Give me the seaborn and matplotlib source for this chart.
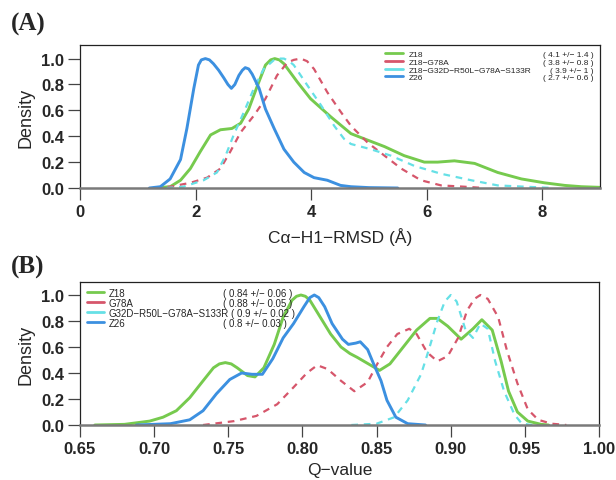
import numpy as np
import pandas as pd
import matplotlib
matplotlib.use("Agg")
import matplotlib.pyplot as plt
import seaborn as sns

# ---------------- data ----------------
series_names_a = ["Z18", "Z18\u2212G78A", "Z18\u2212G32D\u2212R50L\u2212G78A\u2212S133R", "Z26"]
series_stats_a = ["( 4.1 +/\u2212 1.4 )", "( 3.8 +/\u2212 0.8 )", "( 3.9 +/\u2212 1 )", "( 2.7 +/\u2212 0.6 )"]
series_names_b = ["Z18", "G78A", "G32D\u2212R50L\u2212G78A\u2212S133R", "Z26"]
series_stats_b = ["( 0.84 +/\u2212 0.06 )", "( 0.88 +/\u2212 0.05 )", "( 0.9 +/\u2212 0.02 )", "( 0.8 +/\u2212 0.03 )"]

# Panel A: C-alpha H1 RMSD densities (normalised to max 1)
a_z18_x = [1.3, 1.56, 1.74, 1.91, 2.08, 2.26, 2.43, 2.63, 2.78, 2.92, 3.07, 3.21, 3.30, 3.37, 3.45, 3.53,
           3.76, 3.99, 4.34, 4.69, 4.92, 5.27, 5.61, 5.96, 6.19, 6.48, 6.83, 7.23, 7.64, 8.04, 8.39,
           8.68, 9.0]
a_z18_y = [0.0, 0.01, 0.06, 0.15, 0.28, 0.41, 0.45, 0.46, 0.50, 0.61, 0.79, 0.95, 0.99, 1.0, 0.99, 0.96,
           0.82, 0.69, 0.55, 0.42, 0.38, 0.32, 0.25, 0.20, 0.20, 0.21, 0.19, 0.12, 0.07, 0.04, 0.02,
           0.01, 0.005]
a_g78a_x = [1.3, 1.56, 1.91, 2.2, 2.43, 2.6, 2.78, 3.01, 3.21, 3.41, 3.59, 3.70, 3.82, 3.93, 4.05, 4.28,
            4.51, 4.69, 4.98, 5.27, 5.56, 5.90, 6.25, 6.65, 7.0]
a_g78a_y = [0.0, 0.01, 0.04, 0.08, 0.15, 0.28, 0.43, 0.56, 0.69, 0.87, 0.97, 0.99, 1.0, 0.98, 0.92, 0.74,
            0.59, 0.48, 0.35, 0.25, 0.15, 0.06, 0.02, 0.01, 0.0]
a_quad_x = [1.5, 1.79, 2.14, 2.37, 2.52, 2.66, 2.84, 3.01, 3.18, 3.36, 3.45, 3.53, 3.62, 3.70, 3.94, 4.17,
            4.40, 4.57, 4.69, 5.03, 5.38, 5.79, 6.25, 6.77, 7.23, 7.7, 8.2]
a_quad_y = [0.0, 0.01, 0.06, 0.12, 0.25, 0.41, 0.59, 0.77, 0.92, 0.99, 1.0, 1.0, 0.98, 0.95, 0.79, 0.64,
            0.48, 0.38, 0.34, 0.30, 0.25, 0.17, 0.11, 0.06, 0.02, 0.01, 0.0]
a_z26_x = [1.2, 1.39, 1.56, 1.74, 1.85, 1.97, 2.05, 2.10, 2.17, 2.24, 2.31, 2.40, 2.49, 2.56, 2.62, 2.68,
           2.75, 2.81, 2.86, 2.92, 2.98, 3.10, 3.21, 3.36, 3.53, 3.70, 3.88, 4.05, 4.28, 4.51, 4.69,
           5.0, 5.5]
a_z26_y = [0.0, 0.01, 0.07, 0.22, 0.46, 0.77, 0.95, 0.99, 1.0, 0.99, 0.96, 0.91, 0.85, 0.80, 0.77, 0.80,
           0.87, 0.91, 0.93, 0.92, 0.88, 0.77, 0.61, 0.46, 0.30, 0.20, 0.12, 0.08, 0.06, 0.02, 0.01,
           0.003, 0.0]

# Panel B: Q-value densities (normalised to max 1)
b_z18_x = [0.66, 0.68, 0.697, 0.706, 0.715, 0.724, 0.733, 0.740, 0.744, 0.748, 0.752, 0.756, 0.763, 0.768,
           0.774, 0.781, 0.787, 0.793, 0.796, 0.799, 0.802, 0.805, 0.812, 0.819, 0.826, 0.832, 0.837,
           0.846, 0.852, 0.859, 0.868, 0.877, 0.886, 0.891, 0.898, 0.907, 0.915, 0.921, 0.928, 0.934,
           0.939, 0.945, 0.952, 0.961, 0.966]
b_z18_y = [0.0, 0.005, 0.03, 0.06, 0.11, 0.21, 0.34, 0.44, 0.47, 0.48, 0.47, 0.44, 0.38, 0.37,
           0.44, 0.62, 0.83, 0.96, 0.99, 1.0, 0.99, 0.96, 0.83, 0.70, 0.60, 0.55, 0.52,
           0.46, 0.42, 0.47, 0.60, 0.73, 0.82, 0.82, 0.76, 0.66, 0.74, 0.81, 0.73, 0.49,
           0.26, 0.10, 0.03, 0.005, 0.0]
b_g78a_x = [0.733, 0.754, 0.769, 0.783, 0.794, 0.803, 0.810, 0.817, 0.826, 0.835, 0.844, 0.850, 0.857,
            0.864, 0.872, 0.877, 0.884, 0.891, 0.898, 0.905, 0.911, 0.916, 0.920, 0.925, 0.932, 0.938,
            0.945, 0.952, 0.959, 0.968, 0.978]
b_g78a_y = [0.0, 0.03, 0.07, 0.16, 0.29, 0.40, 0.46, 0.43, 0.34, 0.26, 0.33, 0.46, 0.60,
            0.70, 0.74, 0.70, 0.56, 0.49, 0.53, 0.67, 0.88, 0.97, 1.0, 0.97, 0.83, 0.57,
            0.32, 0.12, 0.04, 0.01, 0.0]
b_quad_x = [0.833, 0.850, 0.862, 0.871, 0.880, 0.885, 0.891, 0.896, 0.900, 0.904, 0.910, 0.915, 0.920,
            0.925, 0.930, 0.936, 0.943, 0.948, 0.955]
b_quad_y = [0.0, 0.01, 0.06, 0.19, 0.39, 0.57, 0.80, 0.95, 1.0, 0.95, 0.73, 0.67, 0.78,
            0.74, 0.49, 0.26, 0.08, 0.01, 0.0]
b_z26_x = [0.688, 0.711, 0.724, 0.733, 0.742, 0.751, 0.759, 0.766, 0.773, 0.780, 0.787, 0.794, 0.801,
           0.805, 0.808, 0.811, 0.815, 0.820, 0.827, 0.831, 0.836, 0.839, 0.844, 0.848, 0.853, 0.857,
           0.863, 0.871, 0.883]
b_z26_y = [0.0, 0.01, 0.04, 0.11, 0.24, 0.35, 0.40, 0.39, 0.39, 0.51, 0.67, 0.78, 0.91,
           0.98, 1.0, 0.98, 0.91, 0.78, 0.66, 0.62, 0.63, 0.64, 0.58, 0.47, 0.34, 0.19,
           0.06, 0.01, 0.0]

a_xticks = [0, 2, 4, 6, 8]
b_xticks = [0.65, 0.70, 0.75, 0.80, 0.85, 0.90, 0.95, 1.00]
yticks = [0.0, 0.2, 0.4, 0.6, 0.8, 1.0]

# ---------------- style ----------------
sns.set_theme(style="ticks")
plt.rcParams["font.family"] = ["Liberation Sans", "DejaVu Sans"]

colors = ["#76ca4e", "#d6566b", "#66e0e6", "#3c90e0"]
dashed = [False, True, True, False]
widths = [2.1, 1.6, 1.6, 2.1]

fig = plt.figure(figsize=(6.16, 4.81), dpi=100)
ax_a = fig.add_axes([80 / 616, 1 - 189 / 481, 520 / 616, 143 / 481])
ax_b = fig.add_axes([80 / 616, 1 - 426 / 481, 519 / 616, 143 / 481])


def draw_panel(ax, xs, ys):
    handles = []
    for i, (x, y) in enumerate(zip(xs, ys)):
        df = pd.DataFrame({"x": x, "y": y})
        sns.lineplot(data=df, x="x", y="y", ax=ax, color=colors[i], linewidth=widths[i],
                     estimator=None, sort=True)
        line = ax.lines[-1]
        line.set_solid_capstyle("round")
        line.set_solid_joinstyle("round")
        if dashed[i]:
            line.set_dashes((3.0, 2.6))
        handles.append(line)
    return handles


def style_axes(ax, xlim, xticks, xticklabels, xlabel, ylim_top, xlabelpad):
    ax.set_xlim(*xlim)
    ax.set_ylim(0, ylim_top)
    ax.set_xticks(xticks)
    ax.set_xticklabels(xticklabels)
    ax.set_yticks(yticks)
    ax.set_yticklabels([f"{v:.1f}" for v in yticks])
    for s in ["top", "right", "left"]:
        ax.spines[s].set_visible(True)
        ax.spines[s].set_color("#222222")
        ax.spines[s].set_linewidth(0.9)
    ax.spines["bottom"].set_color("#7a7a7a")
    ax.spines["bottom"].set_linewidth(1.8)
    ax.tick_params(axis="both", direction="out", length=8.5, width=0.9, color="#444444",
                   labelsize=12, pad=3.0)
    for lab in ax.get_xticklabels() + ax.get_yticklabels():
        lab.set_fontweight("bold")
    ax.set_xlabel(xlabel, fontsize=12.5, labelpad=xlabelpad)
    ax.set_ylabel("Density", fontsize=13, labelpad=5)


handles_a = draw_panel(ax_a, [a_z18_x, a_g78a_x, a_quad_x, a_z26_x],
                       [a_z18_y, a_g78a_y, a_quad_y, a_z26_y])
handles_b = draw_panel(ax_b, [b_z18_x, b_g78a_x, b_quad_x, b_z26_x],
                       [b_z18_y, b_g78a_y, b_quad_y, b_z26_y])

style_axes(ax_a, (0, 9), a_xticks, [str(v) for v in a_xticks],
           "C\u03b1\u2212H1\u2212RMSD (\u00c5)", 1.105, 6)
style_axes(ax_b, (0.65, 1.0), b_xticks, [f"{v:.2f}" for v in b_xticks], "Q\u2212value", 1.1, 4.5)

leg_a = ax_a.legend(handles_a, series_names_a, loc="upper left", bbox_to_anchor=(0.587, 0.965),
                    frameon=False, fontsize=6, handlelength=2.15, handletextpad=0.7,
                    labelspacing=0.0, borderpad=0, borderaxespad=0)
leg_b = ax_b.legend(handles_b, series_names_b, loc="upper left", bbox_to_anchor=(0.0135, 0.96),
                    frameon=False, fontsize=7, handlelength=1.75, handletextpad=0.45,
                    labelspacing=0.0, borderpad=0, borderaxespad=0)
for leg in (leg_a, leg_b):
    for h in leg.legend_handles:
        h.set_linewidth(2.0)
        h.set_linestyle("-")

fig.canvas.draw()
renderer = fig.canvas.get_renderer()


def add_stats(ax, leg, stats, mode, xcol, fs):
    inv = ax.transAxes.inverted()
    for t, s in zip(leg.get_texts(), stats):
        bb = t.get_window_extent(renderer)
        (x0, y0), (x1, y1) = inv.transform([[bb.x0, bb.y0], [bb.x1, bb.y1]])
        yc = (y0 + y1) / 2
        if mode == "right":
            ax.text(xcol, yc, s, transform=ax.transAxes, ha="right", va="center", fontsize=fs)
        else:
            ax.text(max(xcol, x1 + 0.004), yc, s, transform=ax.transAxes, ha="left",
                    va="center", fontsize=fs)


add_stats(ax_a, leg_a, series_stats_a, "right", 0.987, 6)
add_stats(ax_b, leg_b, series_stats_b, "left", 0.2755, 7)

fig.text(0.018, 0.949, "(A)", fontsize=18, fontweight="bold", family="Liberation Serif",
         va="center", ha="left")
fig.text(0.018, 0.443, "(B)", fontsize=18, fontweight="bold", family="Liberation Serif",
         va="center", ha="left")

fig.savefig("out.png", dpi=100)
